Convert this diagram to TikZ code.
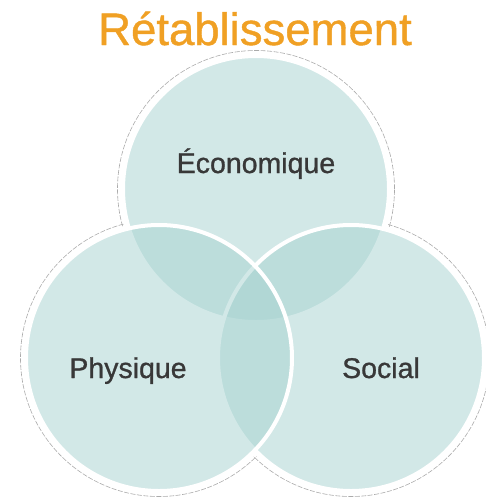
\documentclass[tikz,border=0pt]{standalone}
\usepackage{fontspec}
\setmainfont{Liberation Sans}
\newfontfamily\heavyfont[FakeBold=0.9]{Liberation Sans}
\definecolor{circfill}{HTML}{A7D3D1}
\definecolor{titlecolor}{HTML}{F0A024}
\definecolor{labelcolor}{HTML}{383838}
\definecolor{haloline}{HTML}{ABABAB}

\begin{document}
\begin{tikzpicture}[x=1pt, y=-1pt, every node/.style={inner sep=0pt}]
\tikzstyle{halo}=[circle, draw=haloline, line width=0.6pt, dash pattern=on 5pt off 1.5pt, minimum size=277pt]
\tikzstyle{mask}=[circle, fill=white, minimum size=273pt]
\tikzstyle{cir}=[circle, fill=circfill, fill opacity=0.5, draw=white, line width=4pt, minimum size=266pt]
\tikzstyle{lbl}=[anchor=base, text=labelcolor, font=\heavyfont\fontsize{28.5}{32}\selectfont]
\tikzstyle{ttl}=[anchor=base, text=titlecolor, font=\heavyfont\fontsize{45.5}{50}\selectfont]

\useasboundingbox (0,0) rectangle (486,501);

\coordinate (ec) at (256,189);
\coordinate (sc) at (351,358);
\coordinate (pc) at (159,358);

% outer rim
\node[halo](ecoh) at (ec){}; \node[halo](soch) at (sc){}; \node[halo](phyh) at (pc){};
\node[mask](ecom) at (ec){}; \node[mask](socm) at (sc){}; \node[mask](phym) at (pc){};

% circles
\node[cir](eco) at (ec){};
\node[cir](soc) at (sc){};
\node[cir](phy) at (pc){};

\node[ttl](title) at (255,45){Rétablissement};
\node[lbl](ecolbl) at (256,173){Économique};
\node[lbl](phylbl) at (128,378){Physique};
\node[lbl](soclbl) at (381,378){Social};
\end{tikzpicture}
\end{document}
